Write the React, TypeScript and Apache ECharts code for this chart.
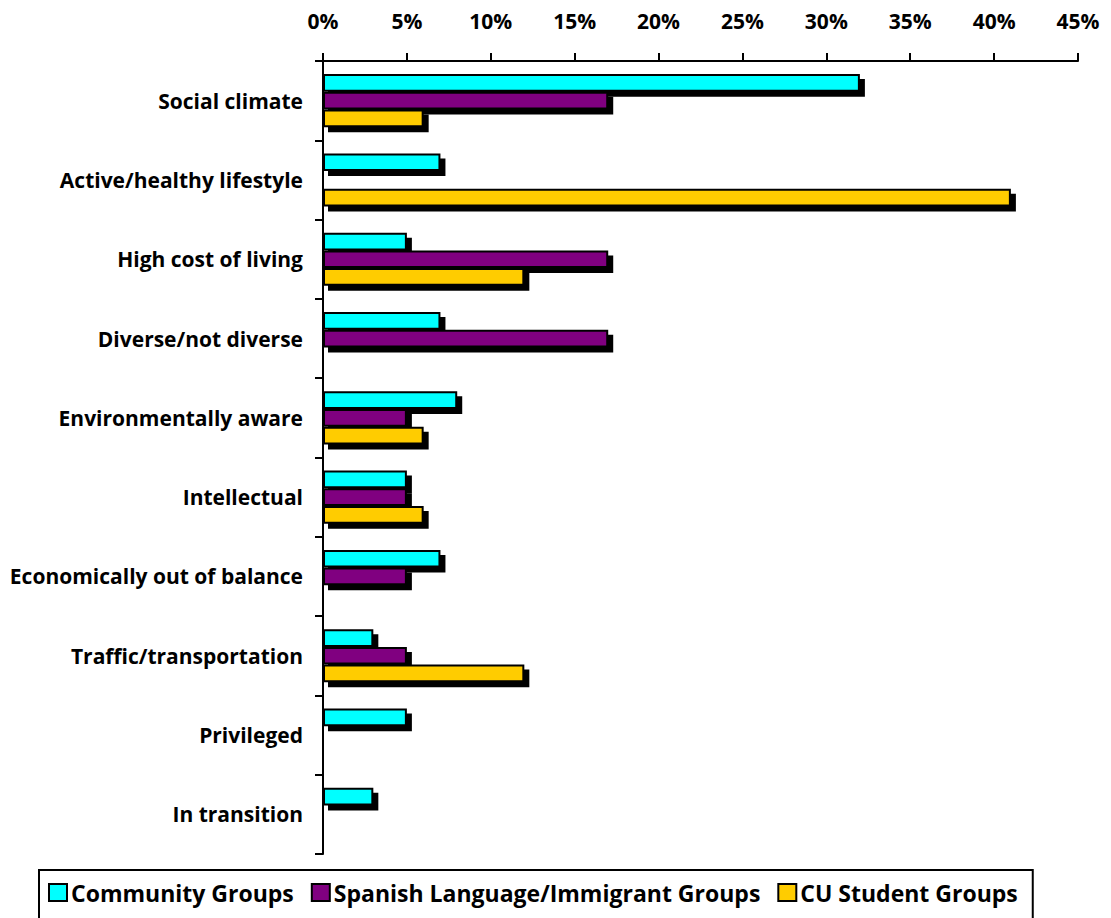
import React, { useEffect, useRef } from "react";
import * as echarts from "echarts";

const categories = [
  "Social climate",
  "Active/healthy lifestyle",
  "High cost of living",
  "Diverse/not diverse",
  "Environmentally aware",
  "Intellectual",
  "Economically out of balance",
  "Traffic/transportation",
  "Privileged",
  "In transition",
];
const community = [32, 7, 5, 7, 8, 5, 7, 3, 5, 3];
const spanish = [17, 0, 17, 17, 5, 5, 5, 5, 0, 0];
const student = [6, 41, 12, 0, 6, 6, 0, 12, 0, 0];
const seriesNames = ["Community Groups", "Spanish Language/Immigrant Groups", "CU Student Groups"];
const colors = ["#00FFFF", "#800080", "#FFCC00"];

const FONT = "Open Sans";

export default function App() {
  const ref = useRef<HTMLDivElement>(null);
  useEffect(() => {
    const chart = echarts.init(ref.current!, null, { renderer: "svg" });
    const mk = (name: string, data: number[], color: string) => ({
      name,
      type: "bar",
      data: data.map((v) => (v === 0 ? null : v)),
      barGap: "0%",
      barCategoryGap: "33%",
      itemStyle: {
        color,
        borderColor: "#000",
        borderWidth: 2,
        shadowColor: "#000",
        shadowBlur: 0,
        shadowOffsetX: 5,
        shadowOffsetY: 5,
      },
    });
    chart.setOption({
      animation: false,
      textStyle: { fontFamily: FONT },
      grid: { left: 323, right: 33, top: 61, bottom: 64 },
      xAxis: {
        type: "value",
        position: "top",
        min: 0,
        max: 45,
        interval: 5,
        axisLine: { show: true, lineStyle: { color: "#000", width: 2 } },
        axisTick: { show: true, inside: false, length: 8, lineStyle: { color: "#000", width: 2 } },
        axisLabel: {
          formatter: "{value}%",
          color: "#000",
          fontFamily: FONT,
          fontWeight: "bold",
          fontSize: 21,
          margin: 30,
        },
        splitLine: { show: false },
      },
      yAxis: {
        type: "category",
        data: categories,
        inverse: true,
        axisLine: { show: true, lineStyle: { color: "#000", width: 2 } },
        axisTick: { show: true, length: 8, lineStyle: { color: "#000", width: 2 } },
        axisLabel: {
          color: "#000",
          fontFamily: FONT,
          fontWeight: "bold",
          fontSize: 21,
          margin: 20,
        },
      },
      legend: {
        top: 870,
        left: 39,
        orient: "horizontal",
        padding: [11, 15, 30, 9],
        itemGap: 17,
        itemWidth: 18,
        itemHeight: 17,
        borderColor: "#000",
        borderWidth: 2,
        icon: "rect",
        itemStyle: { borderColor: "#000", borderWidth: 2, shadowBlur: 0, shadowOffsetX: 0, shadowOffsetY: 0 },
        textStyle: { color: "#000", fontFamily: FONT, fontWeight: "bold", fontSize: 23, padding: [0, 0, 0, -1] },
        data: seriesNames,
      },
      series: [
        mk(seriesNames[0], community, colors[0]),
        mk(seriesNames[1], spanish, colors[1]),
        mk(seriesNames[2], student, colors[2]),
      ],
    });
    return () => chart.dispose();
  }, []);
  return <div ref={ref} style={{ width: 1111, height: 918, position: "absolute", left: 0, top: 0 }} />;
}
